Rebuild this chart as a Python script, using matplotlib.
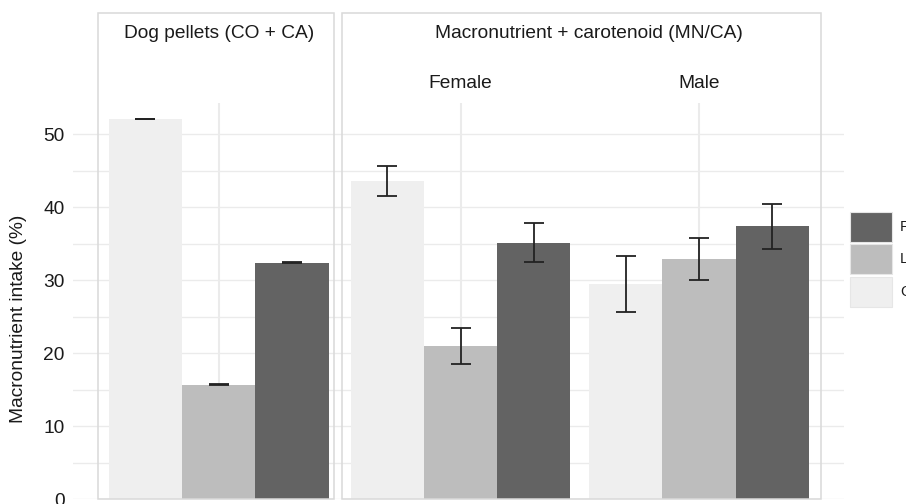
import matplotlib
matplotlib.use("Agg")
from matplotlib import pyplot as plt
from matplotlib.patches import Rectangle
from matplotlib.transforms import blended_transform_factory
import numpy as np

plt.rcParams['font.family'] = ['Liberation Sans', 'DejaVu Sans']

# data
nutrients = ["C", "L", "P"]
legend_labels = ["Protein", "Lipid", "Carbohydrate"]
colors = ["#efefef", "#bdbdbd", "#636363"]

pellet_mean = [52.1, 15.7, 32.4]
pellet_err = [0.05, 0.05, 0.05]

sexes = ["Female", "Male"]
mnca_mean = {"Female": [43.6, 21.0, 35.15], "Male": [29.5, 32.9, 37.4]}
mnca_err = {"Female": [2.0, 2.4, 2.65], "Male": [3.8, 2.85, 3.07]}

W, H = 906, 504
fig = plt.figure(figsize=(W / 100, H / 100), dpi=100)


def fx(px):
    return px / W


def fy(py):
    return 1 - py / H


top, bottom = 103, 499.3
ymax = (bottom - top) / 7.3
grid_c = "#ebebeb"
border_c = "#d9d9d9"
txt_c = "#1a1a1a"
fs = 13.8


def axes_px(x0, x1):
    return fig.add_axes([fx(x0), fy(bottom), fx(x1) - fx(x0), fy(top) - fy(bottom)])


# background axes carrying horizontal gridlines and y tick labels
bg = axes_px(73, 844)
bg.set_ylim(0, ymax)
bg.set_xlim(0, 1)
bg.set_yticks(np.arange(0, 51, 10))
bg.set_yticks(np.arange(5, 50, 10), minor=True)
bg.grid(axis="y", which="both", color=grid_c, lw=1.0)
bg.tick_params(axis="y", which="both", length=0, pad=6, labelsize=fs, labelcolor=txt_c)
bg.set_xticks([])
for s in bg.spines.values():
    s.set_visible(False)

bar_w = 73.3 / 238.5
offsets = np.array([-bar_w, 0, bar_w])


def draw_group(ax, xc, means, errs):
    for i in range(3):
        ax.bar(xc + offsets[i], means[i], width=bar_w, color=colors[i],
               edgecolor="none", zorder=2)
    ax.errorbar(xc + offsets, means, yerr=errs, fmt="none", ecolor="#222222",
                elinewidth=1.3, capsize=7, capthick=1.3, zorder=3)


def setup_panel(ax, centers):
    ax.set_ylim(0, ymax)
    ax.patch.set_alpha(0)
    for c in centers:
        ax.axvline(c, color=grid_c, lw=1.5, zorder=1)
    ax.set_xticks([])
    ax.set_yticks([])
    for s in ax.spines.values():
        s.set_visible(False)


# left panel: dog pellets
axl = axes_px(98.3, 334.3)
axl.set_xlim(-(218.7 - 98.3) / 238.5, (334.3 - 218.7) / 238.5)
setup_panel(axl, [0])
draw_group(axl, 0, pellet_mean, pellet_err)

# right panel: MN/CA by sex
axr = axes_px(341.7, 820.7)
axr.set_xlim(-(460.5 - 341.7) / 238.5, (820.7 - 460.5) / 238.5)
setup_panel(axr, [0, 1])
for k, sex in enumerate(sexes):
    draw_group(axr, k, mnca_mean[sex], mnca_err[sex])

trans = blended_transform_factory(axr.transData, fig.transFigure)
for k, sex in enumerate(sexes):
    axr.text(k, fy(83), sex, transform=trans, ha="center", va="center",
             fontsize=fs, color=txt_c)

# panel borders
for x0, x1 in [(98.3, 334.3), (341.7, 820.7)]:
    fig.add_artist(Rectangle((fx(x0), fy(498.5)), fx(x1) - fx(x0), fy(13) - fy(498.5),
                             transform=fig.transFigure, fill=False,
                             edgecolor=border_c, lw=1.1))

fig.text(fx(219), fy(33), "Dog pellets (CO + CA)", ha="center", va="center",
         fontsize=fs, color=txt_c)
fig.text(fx(589), fy(33), "Macronutrient + carotenoid (MN/CA)", ha="center",
         va="center", fontsize=fs, color=txt_c)
fig.text(fx(19), fy(319), "Macronutrient intake (%)", rotation=90, ha="center",
         va="center", fontsize=fs, color=txt_c)

# legend (cut by the figure edge like the reference)
key_y = [212, 244, 277]
for i, yk in enumerate(key_y):
    ci = 2 - i
    fig.add_artist(Rectangle((fx(850), fy(yk + 30)), fx(42), 30 / H,
                             transform=fig.transFigure, facecolor=colors[ci],
                             edgecolor="#e6e6e6", lw=0.8))
    fig.text(fx(900), fy(yk + 15), legend_labels[i], ha="left", va="center",
             fontsize=10.5, color=txt_c)

fig.savefig("out.png", dpi=100)
